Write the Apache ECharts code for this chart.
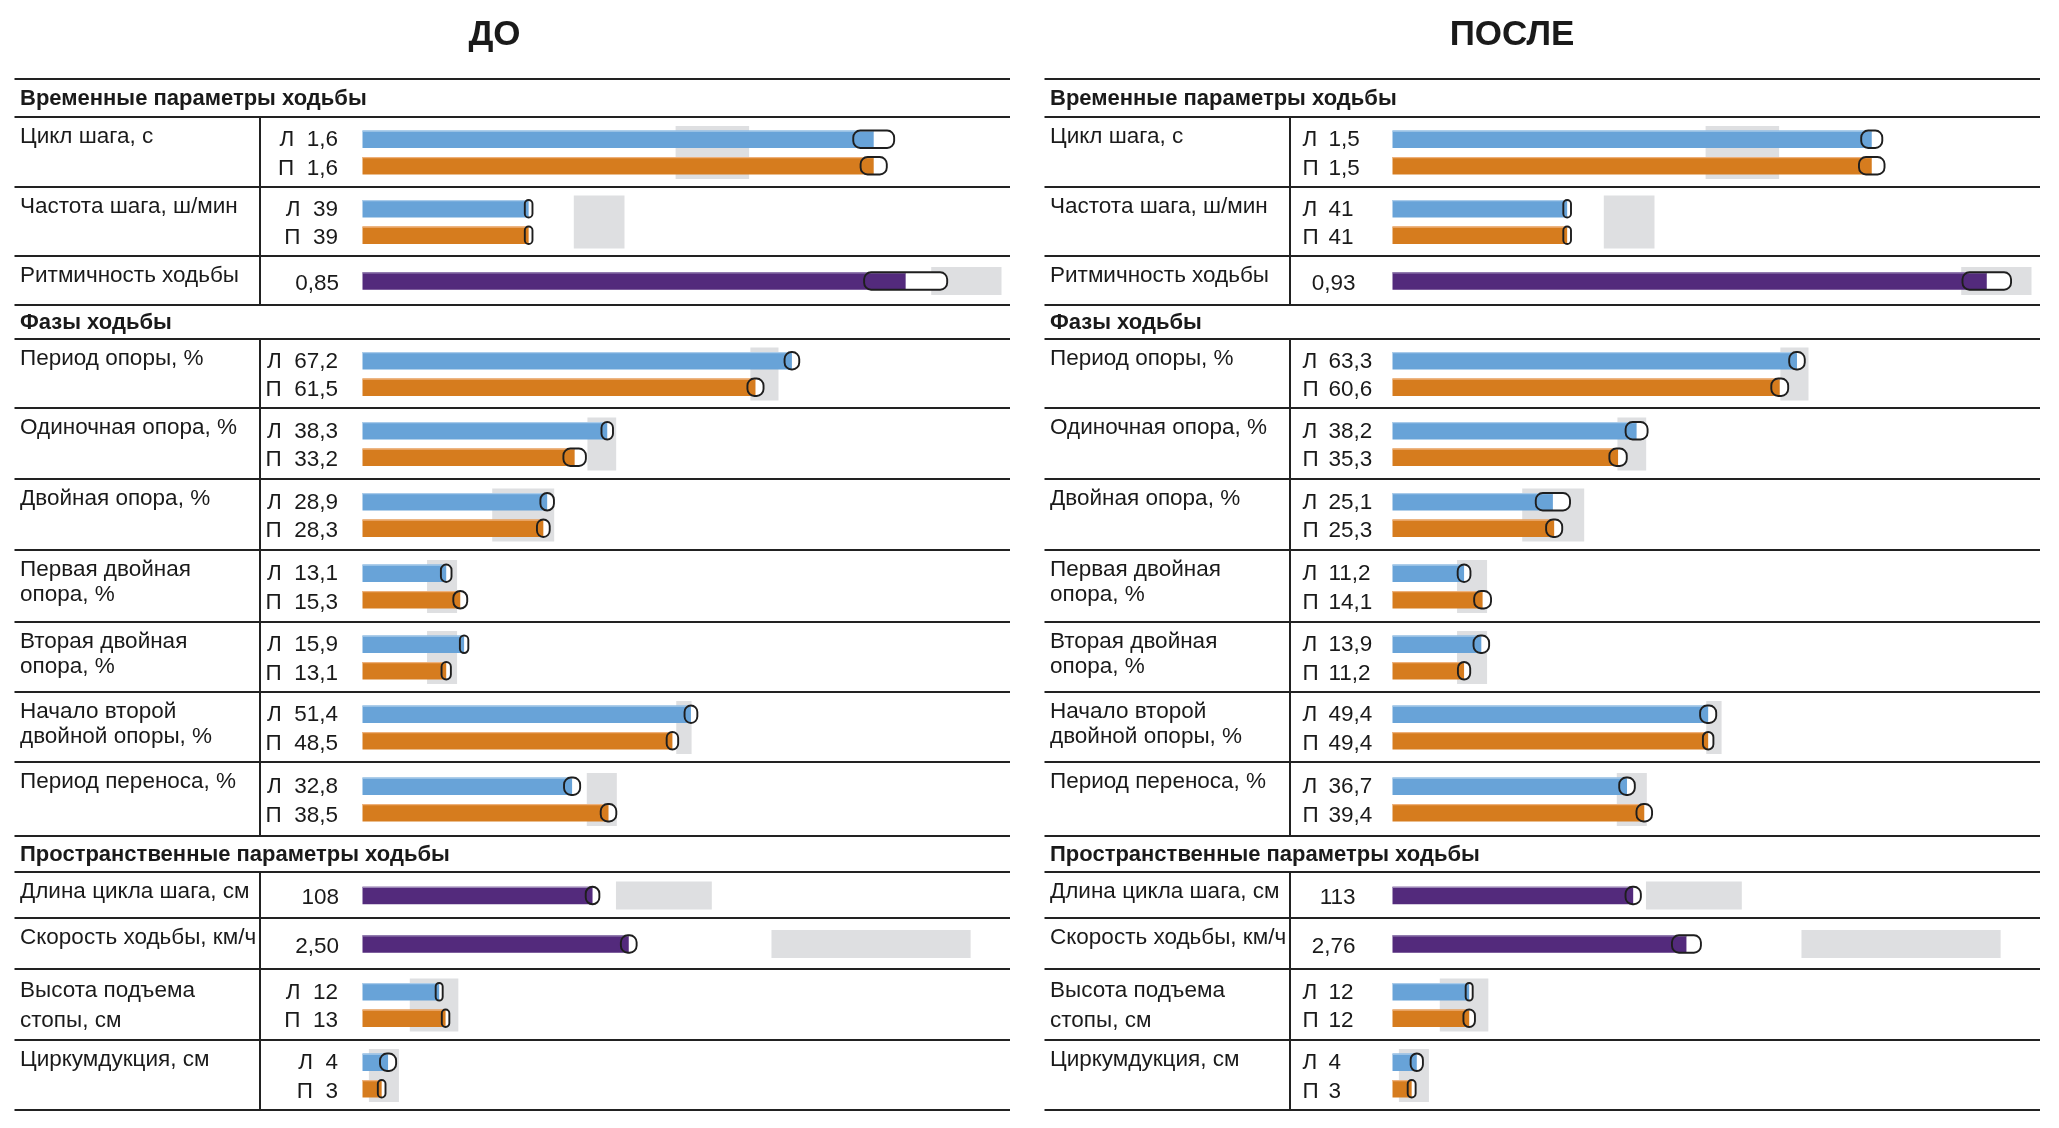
<!DOCTYPE html>
<html><head><meta charset="utf-8">
<script src="https://cdn.jsdelivr.net/npm/echarts@6/dist/echarts.min.js"></script>
<style>html,body{margin:0;padding:0;background:#fff}#c{width:2059px;height:1128px}</style>
</head><body><div id="c"></div><script>
// ---------------- DATA ----------------
const panelTitles = ['ДО', 'ПОСЛЕ'];
const sectionTitles = ['Временные параметры ходьбы', 'Фазы ходьбы', 'Пространственные параметры ходьбы'];
const sectionFirstRow = [0, 3, 10];
const sides = ['Л', 'П'];
const rowLabels = [
  'Цикл шага, с', 'Частота шага, ш/мин', 'Ритмичность ходьбы',
  'Период опоры, %', 'Одиночная опора, %', 'Двойная опора, %',
  'Первая двойная\nопора, %', 'Вторая двойная\nопора, %', 'Начало второй\nдвойной опоры, %',
  'Период переноса, %',
  'Длина цикла шага, см', 'Скорость ходьбы, км/ч', 'Высота подъема\nстопы, см', 'Циркумдукция, см'
];
const axisMax  = [2, 150, 1, 100, 100, 100, 100, 100, 100, 100, 300, 6, 100, 100];
const decimals = [1, 0, 2, 1, 1, 1, 1, 1, 1, 1, 0, 2, 0, 0];
const normalLow  = [0.98, 49.6, 0.89, 60.7, 35.2, 20.3, 10.1, 10.1, 49.1, 35.1, 119, 3.84, 7.4, 1.0];
const normalHigh = [1.21, 61.5, 1.0, 65.1, 39.7, 30.0, 14.8, 14.8, 51.5, 39.8, 164, 5.71, 15.0, 5.7];

const beforeLeft    = [1.6, 39, 0.85, 67.2, 38.3, 28.9, 13.1, 15.9, 51.4, 32.8, 108, 2.50, 12, 4];
const beforeRight   = [1.6, 39, null, 61.5, 33.2, 28.3, 15.3, 13.1, 48.5, 38.5, null, null, 13, 3];
const beforeSdLeft  = [0.064, 0.9, 0.065, 1.15, 0.9, 1.06, 0.83, 0.66, 1.0, 1.26, 3.2, 0.074, 0.47, 1.26];
const beforeSdRight = [0.041, 0.9, null, 1.26, 1.76, 1.0, 1.09, 0.73, 0.9, 1.22, null, null, 0.59, 0.6];

const afterLeft     = [1.5, 41, 0.93, 63.3, 38.2, 25.1, 11.2, 13.9, 49.4, 36.7, 113, 2.76, 12, 3.8];
const afterRight    = [1.5, 41, null, 60.6, 35.3, 25.3, 14.1, 11.2, 49.4, 39.4, null, null, 12, 3];
const afterSdLeft   = [0.033, 0.9, 0.038, 1.22, 1.72, 2.68, 1.0, 1.22, 1.26, 1.22, 3.6, 0.136, 0.47, 0.96];
const afterSdRight  = [0.04, 0.9, null, 1.32, 1.36, 1.26, 1.32, 0.96, 0.82, 1.22, null, null, 0.9, 0.62];

// ---------------- STYLE / LAYOUT ----------------
const FONT = '"Liberation Sans", Arial, sans-serif';
const TXT = '#1a1a1a';
const LINE = '#222222';
const COL = ['#68a3d8', '#d67c1e', '#532a7c'];
const EDGE = ['#a9cbea', '#eeb07a', '#9a86b6'];
const GREY = '#dedfe1';
const PANEL_X = [14.5, 1044.5];
const PANEL_W = 995.5;
const DIV_OFF = 245.5;
const BAR_OFF = 348;
const SCALE_W = 639;
const TOP_Y = 79;
const HEADER_H = [38, 34, 36];
const ROW_H = [70, 69, 49, 69, 71, 71, 72, 70, 70, 74, 46, 51, 71, 70];
const LABEL_LH = [25, 25, 25, 25, 25, 25, 25, 25, 25, 25, 25, 25, 30, 25];
const BAR_H = 17.5;
const FS = 22.5;

const panels = [
  {L: beforeLeft, R: beforeRight, sL: beforeSdLeft, sR: beforeSdRight},
  {L: afterLeft, R: afterRight, sL: afterSdLeft, sR: afterSdRight}
];

// vertical layout
const rowTop = [], headerTop = [];
let yy = TOP_Y;
for (let r = 0; r < rowLabels.length; r++) {
  const s = sectionFirstRow.indexOf(r);
  if (s >= 0) { headerTop[s] = yy; yy += HEADER_H[s]; }
  rowTop[r] = yy; yy += ROW_H[r];
}

function fmt(v, d) { return v.toFixed(d).replace('.', ','); }

const grids = [], xAxes = [], yAxes = [], series = [], graphics = [];

function greyRender(params, api) {
  const a = api.coord([api.value(0), 0]);
  const b = api.coord([api.value(1), 0]);
  const cs = params.coordSys;
  return {type: 'rect', shape: {x: a[0], y: cs.y, width: b[0] - a[0], height: cs.height}, style: {fill: GREY}};
}

function makeBarRender(p, r, single) {
  return function (params, api) {
    const v = api.value(0), c = api.value(1), sd = api.value(2);
    const cs = params.coordSys;
    const base = api.coord([0, c]);
    const end = api.coord([v, c]);
    const lo = api.coord([v - sd, c]);
    const hi = api.coord([v + sd, c]);
    const y = end[1];
    let px = lo[0], pw = hi[0] - lo[0];
    if (pw < 7) { px = end[0] - 3.5; pw = 7; }
    const rr = Math.min(pw / 2, 7);
    const ci = single ? 2 : c;
    const children = [
      {type: 'rect', shape: {x: px, y: y - BAR_H / 2, width: pw, height: BAR_H, r: rr}, style: {fill: '#ffffff'}},
      {type: 'rect', shape: {x: base[0], y: y - BAR_H / 2, width: end[0] - base[0], height: BAR_H}, style: {fill: COL[ci]}},
      {type: 'rect', shape: {x: base[0], y: y - BAR_H / 2, width: end[0] - base[0], height: 1.3}, style: {fill: EDGE[ci]}},
      {type: 'rect', shape: {x: px, y: y - BAR_H / 2, width: pw, height: BAR_H, r: rr}, style: {fill: null, stroke: '#1e1e1e', lineWidth: 1.9}}
    ];
    const ty = y + (single ? 2.5 : (c === 0 ? 1 : 3));
    const ts = {fontFamily: FONT, fontSize: FS, fill: TXT, verticalAlign: 'middle'};
    const val = fmt(v, decimals[r]);
    if (p === 0) {
      if (single) children.push({type: 'text', x: cs.x - 23.5, y: ty, style: Object.assign({text: val, align: 'right'}, ts)});
      else children.push({type: 'text', x: cs.x - 24.5, y: ty, style: Object.assign({text: sides[c] + '  ' + val, align: 'right'}, ts)});
    } else {
      if (single) children.push({type: 'text', x: cs.x - 37, y: ty, style: Object.assign({text: val, align: 'right'}, ts)});
      else {
        children.push({type: 'text', x: cs.x - 90, y: ty, style: Object.assign({text: sides[c], align: 'left'}, ts)});
        children.push({type: 'text', x: cs.x - 64, y: ty, style: Object.assign({text: val, align: 'left'}, ts)});
      }
    }
    return {type: 'group', children: children};
  };
}

for (let p = 0; p < 2; p++) {
  const P = panels[p];
  const X0 = PANEL_X[p];
  graphics.push({type: 'text', x: X0 + (p === 0 ? 480 : 467.5), y: 35,
    style: {text: panelTitles[p], fontFamily: FONT, fontSize: 35, fontWeight: 'bold', fill: TXT, align: 'center', verticalAlign: 'middle'}});
  graphics.push({type: 'line', shape: {x1: X0, y1: TOP_Y, x2: X0 + PANEL_W, y2: TOP_Y}, style: {stroke: LINE, lineWidth: 2.2}});
  for (let s = 0; s < sectionTitles.length; s++) {
    const hy = headerTop[s];
    graphics.push({type: 'text', x: X0 + 5.5, y: hy + HEADER_H[s] / 2 + 1,
      style: {text: sectionTitles[s], fontFamily: FONT, fontSize: 22, fontWeight: 'bold', fill: TXT, align: 'left', verticalAlign: 'middle'}});
    graphics.push({type: 'line', shape: {x1: X0, y1: hy + HEADER_H[s], x2: X0 + PANEL_W, y2: hy + HEADER_H[s]}, style: {stroke: LINE, lineWidth: 2.2}});
    const first = sectionFirstRow[s];
    const last = (s + 1 < sectionFirstRow.length ? sectionFirstRow[s + 1] : rowLabels.length) - 1;
    graphics.push({type: 'line', shape: {x1: X0 + DIV_OFF, y1: rowTop[first], x2: X0 + DIV_OFF, y2: rowTop[last] + ROW_H[last]}, style: {stroke: LINE, lineWidth: 2}});
  }
  for (let r = 0; r < rowLabels.length; r++) {
    const top = rowTop[r];
    graphics.push({type: 'text', x: X0 + 5.5, y: top + 7,
      style: {text: rowLabels[r], fontFamily: FONT, fontSize: FS, fill: TXT, align: 'left', verticalAlign: 'top', lineHeight: LABEL_LH[r]}});
    graphics.push({type: 'line', shape: {x1: X0, y1: top + ROW_H[r], x2: X0 + PANEL_W, y2: top + ROW_H[r]}, style: {stroke: LINE, lineWidth: 2.2}});

    const single = P.R[r] == null;
    const gh = single ? 28 : 53;
    const center = top + ROW_H[r] / 2 + 0.5;
    const g = grids.length;
    grids.push({left: X0 + BAR_OFF, top: center - gh / 2, width: SCALE_W, height: gh, containLabel: false});
    xAxes.push({gridIndex: g, type: 'value', min: 0, max: axisMax[r], show: false});
    yAxes.push({gridIndex: g, type: 'category', data: single ? [''] : sides, inverse: true, show: false});
    series.push({type: 'custom', coordinateSystem: 'cartesian2d', xAxisIndex: g, yAxisIndex: g, z: 1, silent: true, clip: false,
      encode: {x: [0, 1], y: 2}, data: [[normalLow[r], normalHigh[r], 0]], renderItem: greyRender});
    const items = [[P.L[r], 0, P.sL[r]]];
    if (!single) items.push([P.R[r], 1, P.sR[r]]);
    series.push({type: 'custom', coordinateSystem: 'cartesian2d', xAxisIndex: g, yAxisIndex: g, z: 2, silent: true, clip: false,
      encode: {x: 0, y: 1}, data: items, renderItem: makeBarRender(p, r, single)});
  }
}

const chart = echarts.init(document.getElementById('c'), null, {renderer: 'canvas'});
chart.setOption({
  animation: false,
  backgroundColor: '#ffffff',
  grid: grids, xAxis: xAxes, yAxis: yAxes, series: series,
  graphic: {elements: graphics}
});
</script></body></html>
